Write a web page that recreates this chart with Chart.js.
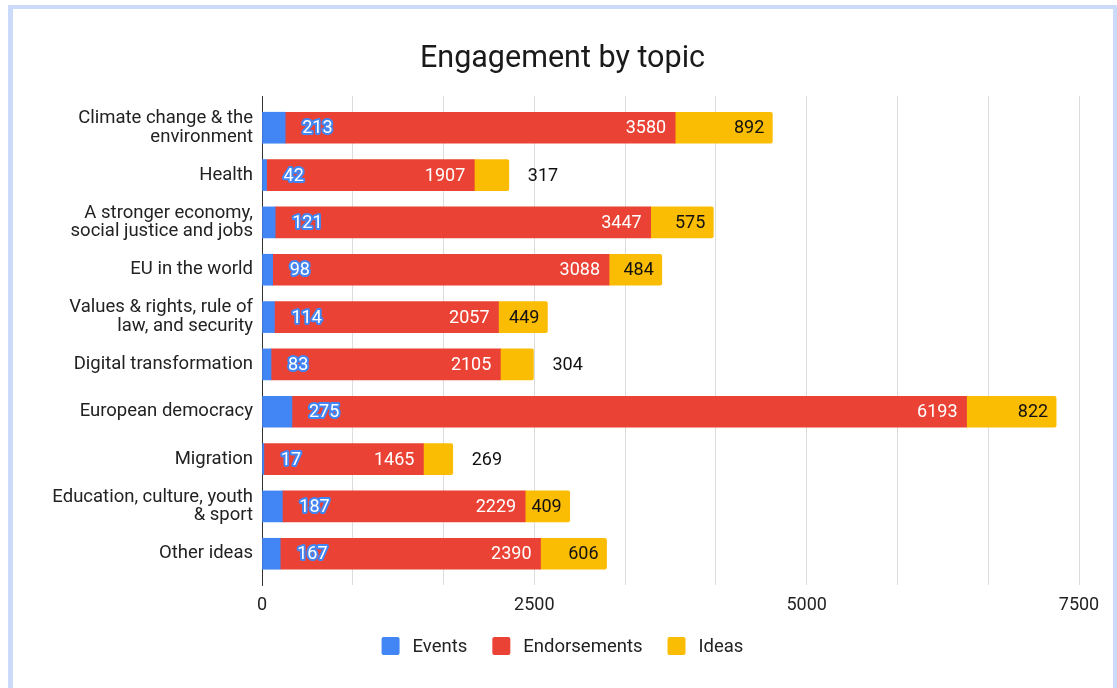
<!DOCTYPE html>
<html>
<head>
<meta charset="utf-8">
<script src="https://cdn.jsdelivr.net/npm/chart.js@4"></script>
<style>
  html, body { margin: 0; padding: 0; background: #fff; }
  body { width: 1117px; height: 688px; position: relative; overflow: hidden; font-family: Roboto, sans-serif; }
  #frame { position: absolute; left: 8px; top: 5px; width: 1100px; height: 700px; border-left: 5px solid #cbdaf8; border-top: 4px solid #cbdaf8; border-right: 4px solid #cbdaf8; }
  #c { position: absolute; left: 0; top: 0; }
</style>
</head>
<body>
<div id="frame"></div>
<canvas id="c" width="1117" height="688"></canvas>
<script>
const title = 'Engagement by topic';
const categories = [
  ['Climate change & the', 'environment'],
  ['Health'],
  ['A stronger economy,', 'social justice and jobs'],
  ['EU in the world'],
  ['Values & rights, rule of', 'law, and security'],
  ['Digital transformation'],
  ['European democracy'],
  ['Migration'],
  ['Education, culture, youth', '& sport'],
  ['Other ideas']
];
const seriesNames = ['Events', 'Endorsements', 'Ideas'];
const events       = [213, 42, 121, 98, 114, 83, 275, 17, 187, 167];
const endorsements = [3580, 1907, 3447, 3088, 2057, 2105, 6193, 1465, 2229, 2390];
const ideas        = [892, 317, 575, 484, 449, 304, 822, 269, 409, 606];
const xTickLabels  = [0, 2500, 5000, 7500];

const COLORS = ['#4285F4', '#EA4335', '#FBBC04'];
const FONT = 'Roboto, "Noto Sans", sans-serif';

const toPts = arr => arr.map((v, i) => ({ x: v, y: i }));

const overlay = {
  id: 'overlay',
  afterDatasetsDraw(chart) {
    const ctx = chart.ctx;
    ctx.save();
    ctx.font = '18px ' + FONT;
    ctx.textBaseline = 'middle';
    chart.data.datasets.forEach((ds, di) => {
      const meta = chart.getDatasetMeta(di);
      meta.data.forEach((bar, i) => {
        const v = ds.data[i].x;
        const txt = String(v);
        const end = bar.x, start = bar.base, y = bar.y + 1;
        const w = ctx.measureText(txt).width;
        if (di === 0) {
          ctx.textAlign = 'left';
          ctx.lineJoin = 'round';
          ctx.lineWidth = 4;
          ctx.strokeStyle = COLORS[0];
          ctx.strokeText(txt, end + 17, y);
          ctx.fillStyle = '#ffffff';
          ctx.fillText(txt, end + 17, y);
        } else if (di === 1) {
          ctx.textAlign = 'right';
          ctx.fillStyle = '#ffffff';
          ctx.fillText(txt, end - 9, y);
        } else {
          ctx.fillStyle = '#111111';
          if (w + 14 <= end - start) {
            ctx.textAlign = 'right';
            ctx.fillText(txt, end - 8, y);
          } else {
            ctx.textAlign = 'left';
            ctx.fillText(txt, end + 19, y);
          }
        }
      });
    });
    // title
    ctx.textAlign = 'center';
    ctx.textBaseline = 'alphabetic';
    ctx.fillStyle = '#1a1a1a';
    ctx.font = '30.5px ' + FONT;
    ctx.fillText(title, 562.5, 67);
    // legend
    ctx.font = '18.5px ' + FONT;
    const box = 18, gapBT = 13, gapItem = 25;
    const widths = seriesNames.map(n => ctx.measureText(n).width);
    const total = widths.reduce((a, w) => a + box + gapBT + w, 0) + gapItem * (seriesNames.length - 1);
    let x = 562.5 - total / 2;
    const cy = 646;
    seriesNames.forEach((n, k) => {
      ctx.fillStyle = COLORS[k];
      ctx.beginPath();
      ctx.roundRect(x, cy - box / 2, box, box, 2);
      ctx.fill();
      ctx.fillStyle = '#222222';
      ctx.textAlign = 'left';
      ctx.textBaseline = 'middle';
      ctx.fillText(n, x + box + gapBT, cy + 1);
      x += box + gapBT + widths[k] + gapItem;
    });
    ctx.restore();
  }
};

new Chart(document.getElementById('c'), {
  type: 'bar',
  data: {
    datasets: [
      { label: seriesNames[0], data: toPts(events), backgroundColor: COLORS[0], barThickness: 31 },
      { label: seriesNames[1], data: toPts(endorsements), backgroundColor: COLORS[1], barThickness: 31 },
      { label: seriesNames[2], data: toPts(ideas), backgroundColor: COLORS[2], barThickness: 31, borderRadius: 2 }
    ]
  },
  options: {
    indexAxis: 'y',
    responsive: false,
    animation: false,
    layout: { padding: { left: 0, right: 38, top: 96, bottom: 0 } },
    plugins: { legend: { display: false }, title: { display: false }, tooltip: { enabled: false } },
    scales: {
      x: {
        type: 'linear',
        stacked: true,
        min: 0,
        max: 7500,
        ticks: {
          stepSize: 2500 / 3,
          autoSkip: false,
          maxRotation: 0,
          padding: 10,
          color: '#222222',
          font: { family: FONT, size: 18 },
          callback: (v) => {
            const r = Math.round(v);
            return xTickLabels.includes(r) ? String(r) : '';
          }
        },
        grid: {
          drawTicks: false,
          color: (c) => (c.tick && Math.round(c.tick.value) === 0) ? '#333333' : '#dcdcdc',
          lineWidth: 1
        },
        border: { display: false },
        afterFit: (s) => { s.height = 103; }
      },
      y: {
        type: 'linear',
        stacked: true,
        reverse: true,
        offset: false,
        bounds: 'data',
        min: -0.67,
        max: 9.66,
        afterBuildTicks: (s) => { s.ticks = categories.map((_, i) => ({ value: i })); },
        ticks: {
          autoSkip: false,
          padding: 9,
          color: '#222222',
          font: { family: FONT, size: 18.5, lineHeight: 1.0 },
          callback: (v) => categories[v] || ''
        },
        grid: { display: false, drawTicks: false, offset: false },
        border: { display: true, color: '#333333', width: 1 },
        afterFit: (s) => { s.width = 262; }
      }
    }
  },
  plugins: [overlay]
});
</script>
</body>
</html>
